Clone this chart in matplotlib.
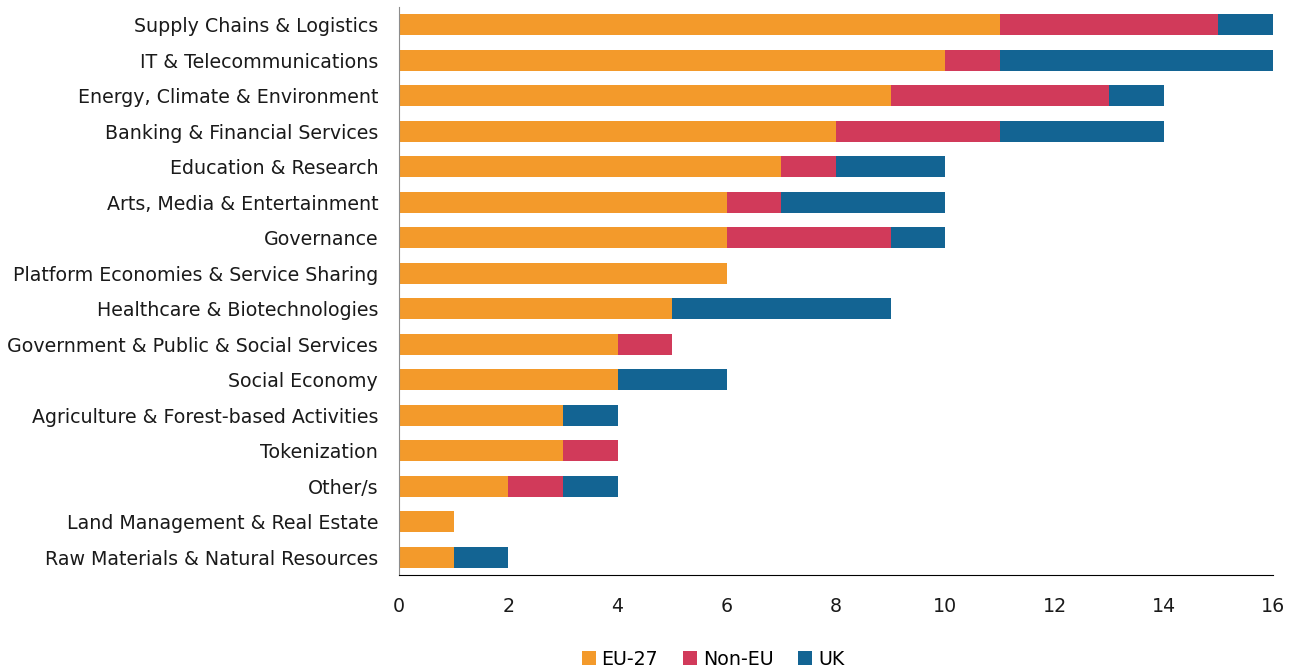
import matplotlib
matplotlib.use("Agg")
import matplotlib.pyplot as plt
import numpy as np

# categorias de arriba a abajo
sectores = [
    "Supply Chains & Logistics",
    "IT & Telecommunications",
    "Energy, Climate & Environment",
    "Banking & Financial Services",
    "Education & Research",
    "Arts, Media & Entertainment",
    "Governance",
    "Platform Economies & Service Sharing",
    "Healthcare & Biotechnologies",
    "Government & Public & Social Services",
    "Social Economy",
    "Agriculture & Forest-based Activities",
    "Tokenization",
    "Other/s",
    "Land Management & Real Estate",
    "Raw Materials & Natural Resources",
]
eu27 = [11, 10, 9, 8, 7, 6, 6, 6, 5, 4, 4, 3, 3, 2, 1, 1]
non_eu = [4, 1, 4, 3, 1, 1, 3, 0, 0, 1, 0, 0, 1, 1, 0, 0]
uk = [1, 5, 1, 3, 2, 3, 1, 0, 4, 0, 2, 1, 0, 1, 0, 1]

plt.rcParams['font.family'] = ['DejaVu Sans']

fig = plt.figure(figsize=(12.98, 6.69), dpi=100)
ax = fig.add_axes([399 / 1298, 1 - 575 / 669, (1273 - 399) / 1298, (575 - 7) / 669])

y = np.arange(len(sectores))
eu = np.array(eu27)
ne = np.array(non_eu)
u = np.array(uk)
alto = 0.6
ax.barh(y, eu, height=alto, color="#F39A2B", label="EU-27")
ax.barh(y, ne, left=eu, height=alto, color="#D13A5A", label="Non-EU")
ax.barh(y, u, left=eu + ne, height=alto, color="#136493", label="UK")

ax.set_ylim(len(sectores) - 0.5, -0.5)
ax.set_xlim(0, 16)
ax.set_xticks(range(0, 17, 2))
ax.set_yticks(y)
ax.set_yticklabels(sectores)
ax.tick_params(axis="both", length=0, labelsize=13.7, colors="#1a1a1a")
ax.tick_params(axis="y", pad=15)
ax.tick_params(axis="x", pad=16)
for s in ["top", "right"]:
    ax.spines[s].set_visible(False)
ax.spines["left"].set_color("#8c8c8c")
ax.spines["bottom"].set_color("black")

fig.legend(loc="lower center", ncol=3, frameon=False, fontsize=13.7,
           bbox_to_anchor=(713 / 1298, -0.025), handlelength=0.75, handleheight=0.75,
           handletextpad=0.3, columnspacing=1.3)

fig.savefig("out.png", dpi=100)
